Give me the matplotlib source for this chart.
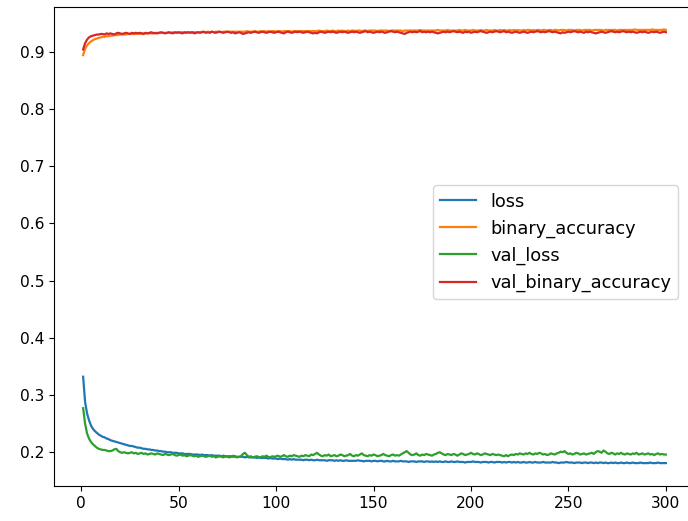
import matplotlib
matplotlib.use("Agg")
import matplotlib.pyplot as plt

epochs = list(range(1, 301))

loss = [
0.332, 0.288, 0.268, 0.256, 0.247, 0.241, 0.237, 0.234, 0.231, 0.229,
0.227, 0.226, 0.224, 0.223, 0.221, 0.220, 0.219, 0.218, 0.217, 0.216,
0.215, 0.214, 0.213, 0.212, 0.211, 0.211, 0.210, 0.209, 0.208, 0.208,
0.207, 0.206, 0.206, 0.205, 0.205, 0.204, 0.204, 0.203, 0.203, 0.202,
0.202, 0.201, 0.201, 0.200, 0.200, 0.200, 0.199, 0.199, 0.199, 0.198,
0.198, 0.198, 0.197, 0.197, 0.197, 0.197, 0.196, 0.196, 0.196, 0.196,
0.195, 0.196, 0.195, 0.195, 0.195, 0.194, 0.195, 0.194, 0.194, 0.194,
0.194, 0.193, 0.194, 0.193, 0.193, 0.193, 0.193, 0.192, 0.193, 0.192,
0.192, 0.192, 0.192, 0.191, 0.192, 0.191, 0.191, 0.191, 0.191, 0.190,
0.191, 0.190, 0.190, 0.190, 0.190, 0.189, 0.190, 0.189, 0.189, 0.189,
0.188, 0.189, 0.188, 0.188, 0.188, 0.187, 0.188, 0.187, 0.188, 0.187,
0.187, 0.187, 0.187, 0.186, 0.187, 0.187, 0.186, 0.187, 0.186, 0.186,
0.187, 0.186, 0.186, 0.186, 0.186, 0.185, 0.186, 0.186, 0.186, 0.185,
0.186, 0.185, 0.186, 0.185, 0.185, 0.186, 0.185, 0.185, 0.185, 0.185,
0.185, 0.186, 0.185, 0.185, 0.184, 0.185, 0.185, 0.185, 0.184, 0.185,
0.185, 0.184, 0.185, 0.185, 0.184, 0.184, 0.185, 0.184, 0.184, 0.185,
0.184, 0.184, 0.184, 0.185, 0.184, 0.184, 0.184, 0.183, 0.184, 0.184,
0.184, 0.183, 0.184, 0.184, 0.184, 0.183, 0.184, 0.184, 0.183, 0.184,
0.183, 0.184, 0.183, 0.184, 0.183, 0.183, 0.184, 0.183, 0.183, 0.184,
0.183, 0.183, 0.184, 0.183, 0.183, 0.183, 0.182, 0.183, 0.183, 0.183,
0.184, 0.183, 0.183, 0.183, 0.182, 0.183, 0.183, 0.183, 0.182, 0.183,
0.183, 0.182, 0.183, 0.183, 0.183, 0.182, 0.183, 0.182, 0.183, 0.183,
0.182, 0.183, 0.182, 0.183, 0.182, 0.182, 0.183, 0.182, 0.182, 0.183,
0.182, 0.182, 0.183, 0.182, 0.182, 0.182, 0.183, 0.182, 0.182, 0.182,
0.182, 0.183, 0.182, 0.182, 0.181, 0.182, 0.182, 0.182, 0.183, 0.182,
0.182, 0.182, 0.181, 0.182, 0.182, 0.182, 0.181, 0.182, 0.182, 0.181,
0.182, 0.182, 0.181, 0.182, 0.181, 0.182, 0.182, 0.181, 0.182, 0.181,
0.181, 0.182, 0.181, 0.182, 0.181, 0.181, 0.182, 0.181, 0.181, 0.182,
0.181, 0.181, 0.182, 0.181, 0.181, 0.181, 0.182, 0.181, 0.181, 0.181,
0.181, 0.182, 0.181, 0.181, 0.181, 0.182, 0.181, 0.181, 0.181, 0.181,
]

binary_accuracy = [
0.894, 0.905, 0.911, 0.915, 0.918, 0.920, 0.922, 0.923, 0.924, 0.925,
0.926, 0.926, 0.927, 0.927, 0.928, 0.928, 0.929, 0.929, 0.929, 0.930,
0.930, 0.930, 0.930, 0.931, 0.931, 0.931, 0.931, 0.931, 0.932, 0.931,
0.932, 0.932, 0.932, 0.932, 0.932, 0.932, 0.933, 0.932, 0.933, 0.933,
0.933, 0.933, 0.933, 0.933, 0.933, 0.933, 0.934, 0.933, 0.934, 0.933,
0.934, 0.934, 0.933, 0.934, 0.934, 0.934, 0.934, 0.934, 0.934, 0.934,
0.934, 0.935, 0.934, 0.934, 0.935, 0.934, 0.935, 0.934, 0.935, 0.935,
0.935, 0.934, 0.935, 0.935, 0.935, 0.935, 0.935, 0.935, 0.935, 0.935,
0.935, 0.935, 0.935, 0.935, 0.936, 0.935, 0.935, 0.935, 0.936, 0.935,
0.935, 0.936, 0.935, 0.936, 0.935, 0.936, 0.935, 0.936, 0.936, 0.935,
0.936, 0.936, 0.935, 0.936, 0.936, 0.936, 0.936, 0.935, 0.936, 0.936,
0.936, 0.936, 0.936, 0.936, 0.936, 0.936, 0.936, 0.936, 0.936, 0.936,
0.936, 0.937, 0.936, 0.936, 0.936, 0.937, 0.936, 0.936, 0.937, 0.936,
0.936, 0.937, 0.936, 0.937, 0.936, 0.936, 0.937, 0.936, 0.937, 0.937,
0.936, 0.937, 0.937, 0.936, 0.937, 0.937, 0.936, 0.937, 0.937, 0.937,
0.937, 0.936, 0.937, 0.937, 0.937, 0.937, 0.937, 0.936, 0.937, 0.937,
0.937, 0.937, 0.937, 0.937, 0.936, 0.937, 0.937, 0.937, 0.937, 0.937,
0.937, 0.937, 0.937, 0.938, 0.937, 0.937, 0.937, 0.937, 0.937, 0.937,
0.937, 0.937, 0.938, 0.937, 0.937, 0.937, 0.937, 0.938, 0.937, 0.937,
0.937, 0.937, 0.937, 0.938, 0.937, 0.937, 0.938, 0.937, 0.937, 0.937,
0.938, 0.937, 0.937, 0.937, 0.938, 0.937, 0.937, 0.938, 0.937, 0.937,
0.937, 0.938, 0.937, 0.937, 0.938, 0.937, 0.938, 0.937, 0.937, 0.938,
0.937, 0.938, 0.937, 0.938, 0.937, 0.937, 0.938, 0.937, 0.938, 0.938,
0.937, 0.938, 0.937, 0.938, 0.938, 0.937, 0.938, 0.938, 0.937, 0.938,
0.938, 0.937, 0.938, 0.938, 0.937, 0.938, 0.938, 0.938, 0.937, 0.938,
0.938, 0.938, 0.937, 0.938, 0.938, 0.938, 0.937, 0.938, 0.938, 0.938,
0.938, 0.937, 0.938, 0.938, 0.938, 0.938, 0.938, 0.937, 0.938, 0.938,
0.938, 0.938, 0.938, 0.938, 0.937, 0.938, 0.938, 0.938, 0.938, 0.938,
0.938, 0.938, 0.938, 0.939, 0.938, 0.938, 0.938, 0.938, 0.938, 0.938,
0.938, 0.938, 0.939, 0.938, 0.938, 0.938, 0.938, 0.938, 0.939, 0.938,
]

val_loss = [
0.277, 0.250, 0.233, 0.224, 0.218, 0.214, 0.211, 0.208, 0.206, 0.205,
0.204, 0.204, 0.203, 0.202, 0.202, 0.203, 0.205, 0.206, 0.202, 0.200,
0.199, 0.200, 0.199, 0.198, 0.199, 0.200, 0.198, 0.199, 0.197, 0.198,
0.199, 0.197, 0.198, 0.196, 0.197, 0.198, 0.197, 0.196, 0.198, 0.197,
0.196, 0.195, 0.197, 0.196, 0.195, 0.196, 0.197, 0.195, 0.194, 0.195,
0.196, 0.194, 0.195, 0.193, 0.194, 0.195, 0.194, 0.193, 0.194, 0.192,
0.193, 0.194, 0.193, 0.192, 0.193, 0.194, 0.192, 0.193, 0.191, 0.192,
0.193, 0.192, 0.191, 0.193, 0.192, 0.191, 0.192, 0.194, 0.192, 0.191,
0.192, 0.193, 0.197, 0.199, 0.195, 0.192, 0.193, 0.191, 0.192, 0.193,
0.192, 0.191, 0.193, 0.192, 0.194, 0.192, 0.191, 0.193, 0.192, 0.193,
0.194, 0.192, 0.193, 0.195, 0.193, 0.192, 0.194, 0.193, 0.195, 0.194,
0.193, 0.192, 0.194, 0.193, 0.195, 0.194, 0.193, 0.196, 0.195, 0.197,
0.199, 0.196, 0.194, 0.193, 0.195, 0.194, 0.196, 0.193, 0.194, 0.195,
0.193, 0.194, 0.196, 0.195, 0.193, 0.194, 0.195, 0.197, 0.194, 0.193,
0.195, 0.194, 0.196, 0.198, 0.195, 0.194, 0.193, 0.195, 0.194, 0.196,
0.195, 0.193, 0.194, 0.195, 0.197, 0.195, 0.194, 0.193, 0.195, 0.196,
0.194, 0.195, 0.194, 0.196, 0.198, 0.200, 0.202, 0.199, 0.196, 0.195,
0.196, 0.198, 0.195, 0.194, 0.196, 0.195, 0.197, 0.196, 0.195, 0.194,
0.196, 0.197, 0.199, 0.200, 0.198, 0.196, 0.195, 0.197, 0.196, 0.195,
0.197, 0.196, 0.194, 0.196, 0.198, 0.197, 0.195, 0.196, 0.197, 0.199,
0.197, 0.196, 0.198, 0.197, 0.195, 0.196, 0.198, 0.197, 0.196, 0.195,
0.197, 0.196, 0.195, 0.196, 0.195, 0.194, 0.193, 0.195, 0.193, 0.195,
0.196, 0.195, 0.197, 0.196, 0.198, 0.197, 0.196, 0.198, 0.197, 0.199,
0.197, 0.196, 0.198, 0.197, 0.199, 0.198, 0.196, 0.197, 0.195, 0.196,
0.198, 0.197, 0.196, 0.198, 0.199, 0.201, 0.200, 0.202, 0.199, 0.197,
0.198, 0.196, 0.197, 0.199, 0.198, 0.196, 0.197, 0.198, 0.196, 0.197,
0.198, 0.199, 0.197, 0.200, 0.202, 0.201, 0.199, 0.203, 0.201, 0.198,
0.197, 0.199, 0.198, 0.196, 0.198, 0.197, 0.199, 0.197, 0.196, 0.198,
0.197, 0.196, 0.198, 0.197, 0.199, 0.196, 0.197, 0.198, 0.196, 0.197,
0.198, 0.196, 0.197, 0.195, 0.197, 0.198, 0.196, 0.197, 0.196, 0.196,
]

val_binary_accuracy = [
0.904, 0.915, 0.921, 0.925, 0.927, 0.928, 0.929, 0.930, 0.930, 0.931,
0.931, 0.930, 0.932, 0.931, 0.932, 0.931, 0.930, 0.932, 0.933, 0.932,
0.931, 0.932, 0.933, 0.932, 0.931, 0.933, 0.932, 0.933, 0.932, 0.933,
0.932, 0.931, 0.933, 0.932, 0.933, 0.934, 0.932, 0.933, 0.932, 0.933,
0.934, 0.933, 0.932, 0.933, 0.934, 0.933, 0.932, 0.934, 0.933, 0.934,
0.933, 0.932, 0.934, 0.933, 0.934, 0.933, 0.934, 0.932, 0.933, 0.934,
0.933, 0.934, 0.935, 0.933, 0.934, 0.933, 0.935, 0.934, 0.933, 0.934,
0.935, 0.934, 0.933, 0.934, 0.935, 0.934, 0.933, 0.934, 0.932, 0.933,
0.934, 0.933, 0.931, 0.932, 0.933, 0.934, 0.933, 0.934, 0.935, 0.934,
0.933, 0.934, 0.935, 0.934, 0.933, 0.934, 0.935, 0.934, 0.933, 0.934,
0.935, 0.934, 0.933, 0.932, 0.934, 0.935, 0.934, 0.933, 0.934, 0.935,
0.934, 0.935, 0.934, 0.933, 0.934, 0.935, 0.934, 0.933, 0.932, 0.933,
0.932, 0.934, 0.935, 0.934, 0.933, 0.934, 0.935, 0.934, 0.935, 0.934,
0.933, 0.934, 0.935, 0.934, 0.935, 0.934, 0.933, 0.934, 0.935, 0.934,
0.935, 0.934, 0.933, 0.934, 0.935, 0.936, 0.934, 0.935, 0.934, 0.933,
0.934, 0.935, 0.934, 0.935, 0.934, 0.933, 0.934, 0.935, 0.936, 0.935,
0.934, 0.935, 0.934, 0.933, 0.932, 0.931, 0.933, 0.934, 0.935, 0.934,
0.935, 0.934, 0.935, 0.936, 0.934, 0.935, 0.934, 0.935, 0.934, 0.935,
0.934, 0.933, 0.932, 0.933, 0.934, 0.935, 0.934, 0.935, 0.934, 0.935,
0.936, 0.935, 0.934, 0.935, 0.934, 0.933, 0.935, 0.934, 0.935, 0.933,
0.934, 0.935, 0.934, 0.935, 0.936, 0.935, 0.934, 0.933, 0.934, 0.935,
0.934, 0.935, 0.936, 0.935, 0.934, 0.935, 0.936, 0.934, 0.935, 0.934,
0.933, 0.934, 0.935, 0.934, 0.933, 0.934, 0.935, 0.934, 0.933, 0.934,
0.935, 0.934, 0.935, 0.936, 0.935, 0.934, 0.935, 0.934, 0.935, 0.936,
0.935, 0.934, 0.935, 0.934, 0.933, 0.932, 0.934, 0.933, 0.934, 0.935,
0.934, 0.935, 0.936, 0.935, 0.934, 0.935, 0.934, 0.933, 0.935, 0.934,
0.935, 0.934, 0.933, 0.932, 0.933, 0.934, 0.935, 0.934, 0.933, 0.934,
0.935, 0.936, 0.935, 0.934, 0.935, 0.934, 0.935, 0.936, 0.935, 0.934,
0.935, 0.934, 0.935, 0.934, 0.933, 0.934, 0.935, 0.934, 0.935, 0.934,
0.933, 0.934, 0.935, 0.934, 0.935, 0.934, 0.933, 0.934, 0.935, 0.934,
]

series = [
    ("loss", loss, "#1f77b4"),
    ("binary_accuracy", binary_accuracy, "#ff7f0e"),
    ("val_loss", val_loss, "#2ca02c"),
    ("val_binary_accuracy", val_binary_accuracy, "#d62728"),
]

plt.rcParams["font.size"] = 11.2
fig = plt.figure(figsize=(6.88, 5.21), dpi=100)
ax = fig.add_axes([54 / 688, (521 - 486) / 521, (695 - 54) / 688, (486 - 7.3) / 521])
for name, vals, color in series:
    ax.plot(epochs, vals, color=color, lw=1.6, label=name)

ax.set_xlim(-13.95, 314.95)
ax.set_ylim(0.141, 0.9776)
ax.set_xticks([0, 50, 100, 150, 200, 250, 300])
ax.set_yticks([0.2, 0.3, 0.4, 0.5, 0.6, 0.7, 0.8, 0.9])
ax.tick_params(labelsize=11.2)
ax.spines["right"].set_visible(False)
ax.legend(loc="center right", bbox_to_anchor=(0.974, 0.509), borderaxespad=0,
          fontsize=12.8)

fig.savefig("out.png", dpi=100)
